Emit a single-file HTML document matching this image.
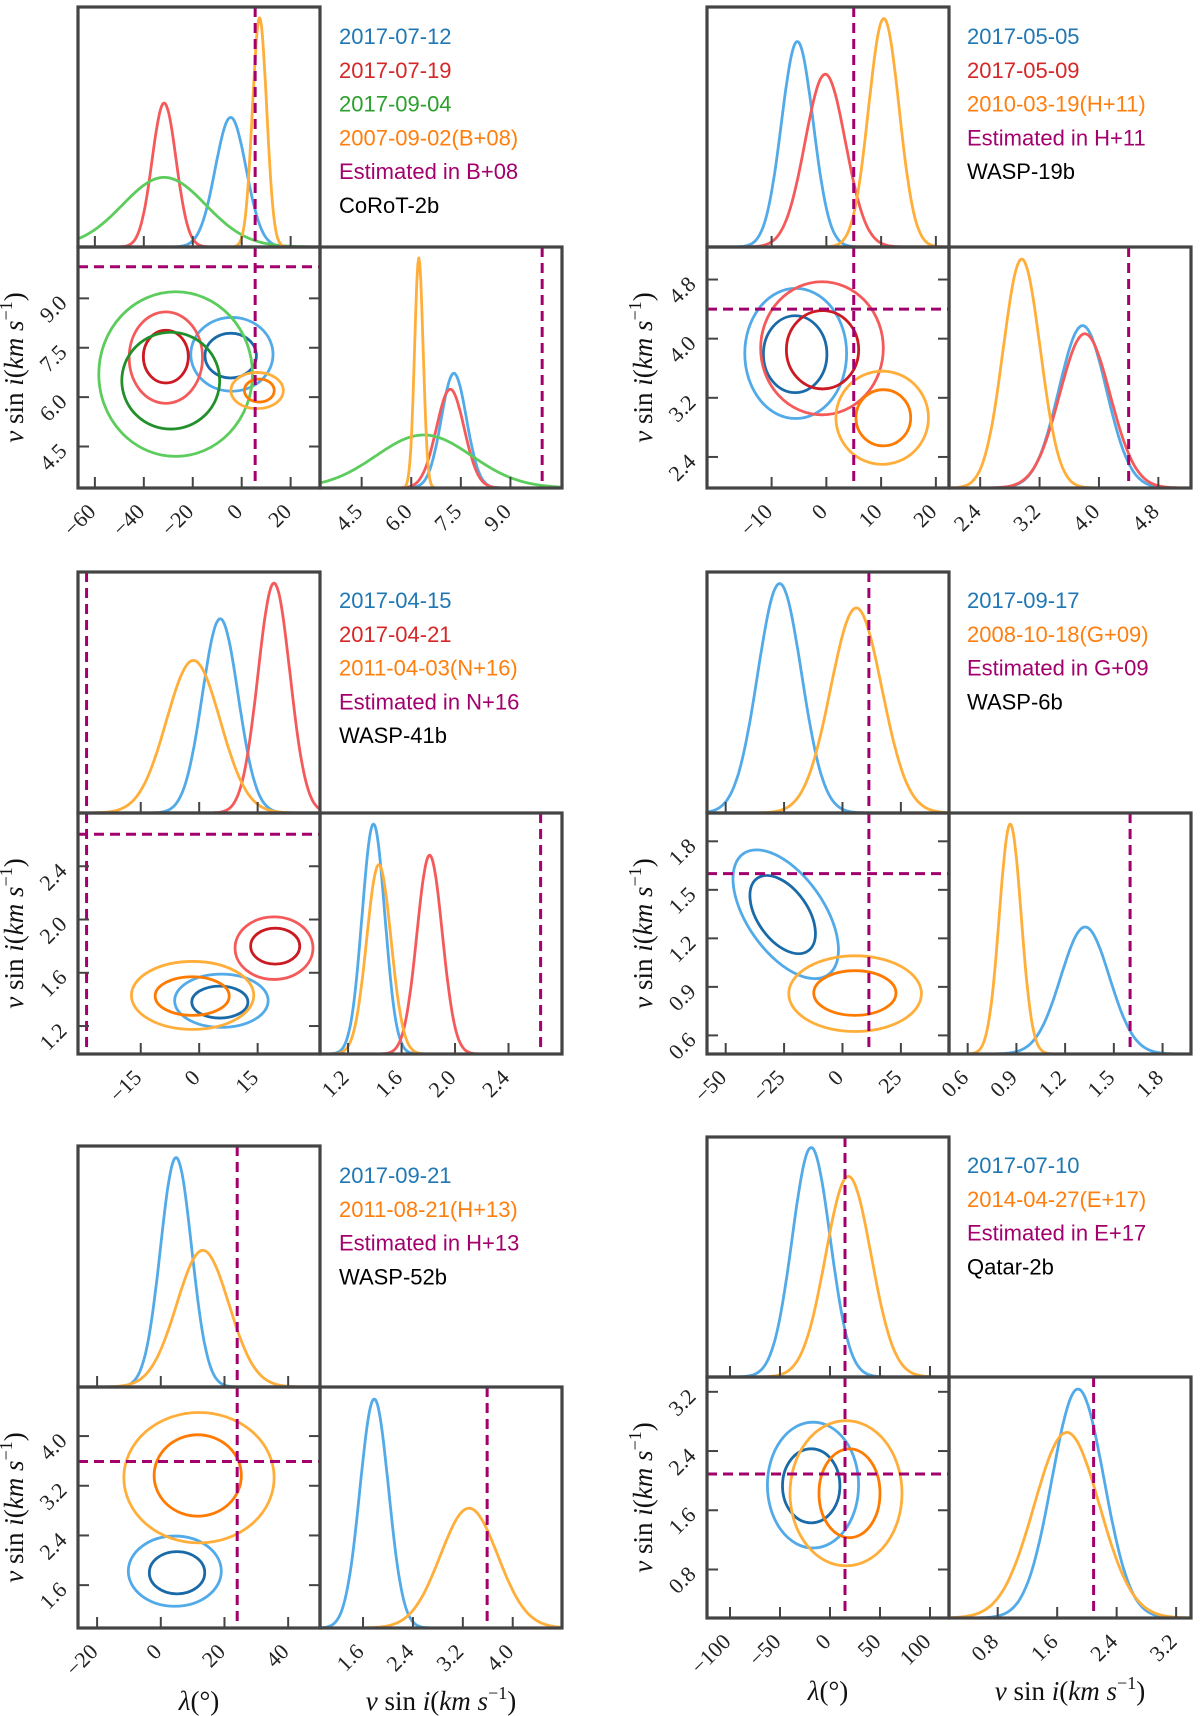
<!DOCTYPE html>
<html><head><meta charset="utf-8"><style>
html,body{margin:0;padding:0;background:#fff;}
svg{display:block;}
.leg{font-family:"Liberation Sans",sans-serif;font-size:22px;}
.tk{font-family:"Liberation Serif",serif;font-size:22px;fill:#222;}
.ax{font-family:"Liberation Serif",serif;font-size:27px;fill:#111;}
</style></head><body>
<svg id="fig" width="1200" height="1716" viewBox="0 0 1200 1716" xmlns="http://www.w3.org/2000/svg"></svg>
<script>
// ---------- data ----------
// CoRoT-2b
const corotLabels = ['2017-07-12','2017-07-19','2017-09-04','2007-09-02(B+08)'];
const corotColors = ['blue','red','green','orange'];
const corotLamMean = [-4.5,-31.7,-31.7,7.3];
const corotLamSd = [6.3,4.9,17,2.9];
const corotLamPeak = [0.54,0.60,0.29,0.955];
const corotVMean = [7.29,7.18,6.38,6.23];
const corotVSd = [0.38,0.42,1.45,0.13];
const corotVPeak = [0.476,0.41,0.22,0.955];
const corotOuterCx = [-4,-31,-27,6.3];
const corotOuterCy = [7.3,7.2,6.7,6.2];
const corotOuterRx = [16.8,15,31.4,10.7];
const corotOuterRy = [1.12,1.39,2.5,0.55];
const corotInnerCx = [-4.5,-31,-29,7.2];
const corotInnerCy = [7.26,7.23,6.5,6.2];
const corotInnerRx = [10.5,9.2,20,6.1];
const corotInnerRy = [0.68,0.8,1.47,0.35];
const corotRot = [0,0,0,0];
const corotLamTicks = [-60,-40,-20,0,20];
const corotVTicks = [4.5,6.0,7.5,9.0];
const corotRef = [5.5,9.96];

// WASP-19b
const w19Labels = ['2017-05-05','2017-05-09','2010-03-19(H+11)'];
const w19Colors = ['blue','red','orange'];
const w19LamMean = [-5.3,-0.2,10.5];
const w19LamSd = [2.9,3.7,2.8];
const w19LamPeak = [0.856,0.72,0.952];
const w19VMean = [3.78,3.81,2.96];
const w19VSd = [0.32,0.34,0.25];
const w19VPeak = [0.674,0.64,0.95];
const w19OuterCx = [-5.6,-0.8,10.2];
const w19OuterCy = [3.8,3.87,2.93];
const w19OuterRx = [9.3,11.2,8.45];
const w19OuterRy = [0.88,0.9,0.63];
const w19InnerCx = [-5.7,-0.7,10.4];
const w19InnerCy = [3.79,3.85,2.93];
const w19InnerRx = [5.8,6.6,5];
const w19InnerRy = [0.52,0.53,0.38];
const w19Rot = [0,0,0];
const w19LamTicks = [-10,0,10,20];
const w19VTicks = [2.4,3.2,4.0,4.8];
const w19Ref = [5.0,4.40];

// WASP-41b
const w41Labels = ['2017-04-15','2017-04-21','2011-04-03(N+16)'];
const w41Colors = ['blue','red','orange'];
const w41LamMean = [5.4,19.2,-1.5];
const w41LamSd = [4.6,4.1,6.9];
const w41LamPeak = [0.806,0.954,0.633];
const w41VMean = [1.39,1.81,1.43];
const w41VSd = [0.085,0.095,0.091];
const w41VPeak = [0.954,0.825,0.786];
const w41OuterCx = [5.7,19.2,-1.7];
const w41OuterCy = [1.39,1.785,1.43];
const w41OuterRx = [12,10,15.7];
const w41OuterRy = [0.2,0.235,0.255];
const w41InnerCx = [5.3,19.5,-1.8];
const w41InnerCy = [1.38,1.8,1.425];
const w41InnerRx = [7.2,6.3,9.5];
const w41InnerRy = [0.12,0.135,0.145];
const w41Rot = [0,0,0];
const w41LamTicks = [-15,0,15];
const w41VTicks = [1.2,1.6,2.0,2.4];
const w41Ref = [-28.9,2.64];

// WASP-6b
const w6Labels = ['2017-09-17','2008-10-18(G+09)'];
const w6Colors = ['blue','orange'];
const w6LamMean = [-26.9,5.9];
const w6LamSd = [9.4,11];
const w6LamPeak = [0.952,0.851];
const w6VMean = [1.323,0.862];
const w6VSd = [0.15,0.067];
const w6VPeak = [0.527,0.954];
const w6OuterCx = [-24.3,5.4];
const w6OuterCy = [1.349,0.858];
const w6OuterRx = [16.4,28.4];
const w6OuterRy = [0.457,0.234];
const w6InnerCx = [-25.6,5.3];
const w6InnerCy = [1.347,0.862];
const w6InnerRx = [10.8,17.6];
const w6InnerRy = [0.274,0.138];
const w6Rot = [-35,0];
const w6LamTicks = [-50,-25,0,25];
const w6VTicks = [0.6,0.9,1.2,1.5,1.8];
const w6Ref = [11.3,1.60];

// WASP-52b
const w52Labels = ['2017-09-21','2011-08-21(H+13)'];
const w52Colors = ['blue','orange'];
const w52LamMean = [4.8,13.2];
const w52LamSd = [4.9,8.2];
const w52LamPeak = [0.952,0.567];
const w52VMean = [1.78,3.30];
const w52VSd = [0.23,0.46];
const w52VPeak = [0.95,0.497];
const w52OuterCx = [4.4,12];
const w52OuterCy = [1.825,3.33];
const w52OuterRx = [14.6,23.6];
const w52OuterRy = [0.565,1.05];
const w52InnerCx = [5.1,11.6];
const w52InnerCy = [1.8,3.365];
const w52InnerRx = [8.7,13.7];
const w52InnerRy = [0.34,0.655];
const w52Rot = [0,0];
const w52LamTicks = [-20,0,20,40];
const w52VTicks = [1.6,2.4,3.2,4.0];
const w52Ref = [24,3.59];

// Qatar-2b
const qLabels = ['2017-07-10','2014-04-27(E+17)'];
const qColors = ['blue','orange'];
const qLamMean = [-18.8,18.4];
const qLamSd = [19,22.8];
const qLamPeak = [0.956,0.836];
const qVMean = [1.88,1.73];
const qVSd = [0.35,0.44];
const qVPeak = [0.95,0.77];
const qOuterCx = [-17,16];
const qOuterCy = [1.94,1.83];
const qOuterRx = [45.6,56];
const qOuterRy = [0.85,0.98];
const qInnerCx = [-18.8,19.5];
const qInnerCy = [1.93,1.83];
const qInnerRx = [28.7,30.5];
const qInnerRy = [0.5,0.6];
const qRot = [0,0];
const qLamTicks = [-100,-50,0,50,100];
const qVTicks = [0.8,1.6,2.4,3.2];
const qRef = [15,2.09];

// ---------- styling / layout ----------
const LIGHT = {blue:'#52aae8',red:'#f55a5a',green:'#5ccc5c',orange:'#ffae3a'};
const DARK = {blue:'#1a6aa8',red:'#cc1a22',green:'#22902a',orange:'#ff7a00'};
const TEXTC = {blue:'#1f77b4',red:'#d62728',green:'#2ca02c',orange:'#ff7f0e'};
const PURPLE = '#a3006e';
const NS = 'http://www.w3.org/2000/svg';
const svg = document.getElementById('fig');
function el(tag, attrs, parent){const e=document.createElementNS(NS,tag);for(const k in attrs)e.setAttribute(k,attrs[k]);(parent||svg).appendChild(e);return e;}

const charts = [
 {key:'corot', name:'CoRoT-2b', refTag:'B+08', x:78, y:[7,247,488], lam:[-66.9,32], v:[3.24,10.56], labels:corotLabels, colors:corotColors, lm:corotLamMean, ls:corotLamSd, lp:corotLamPeak, vm:corotVMean, vs:corotVSd, vp:corotVPeak, ocx:corotOuterCx, ocy:corotOuterCy, orx:corotOuterRx, ory:corotOuterRy, icx:corotInnerCx, icy:corotInnerCy, irx:corotInnerRx, iry:corotInnerRy, rot:corotRot, lt:corotLamTicks, vt:corotVTicks, ref:corotRef, legX:339, legY:36, bottom:false},
 {key:'wasp19', name:'WASP-19b', refTag:'H+11', x:707, y:[7,247,488], lam:[-21.8,22.4], v:[1.98,5.24], labels:w19Labels, colors:w19Colors, lm:w19LamMean, ls:w19LamSd, lp:w19LamPeak, vm:w19VMean, vs:w19VSd, vp:w19VPeak, ocx:w19OuterCx, ocy:w19OuterCy, orx:w19OuterRx, ory:w19OuterRy, icx:w19InnerCx, icy:w19InnerCy, irx:w19InnerRx, iry:w19InnerRy, rot:w19Rot, lt:w19LamTicks, vt:w19VTicks, ref:w19Ref, legX:967, legY:36, bottom:false},
 {key:'wasp41', name:'WASP-41b', refTag:'N+16', x:78, y:[572,813,1054], lam:[-31.1,31.0], v:[0.99,2.80], labels:w41Labels, colors:w41Colors, lm:w41LamMean, ls:w41LamSd, lp:w41LamPeak, vm:w41VMean, vs:w41VSd, vp:w41VPeak, ocx:w41OuterCx, ocy:w41OuterCy, orx:w41OuterRx, ory:w41OuterRy, icx:w41InnerCx, icy:w41InnerCy, irx:w41InnerRx, iry:w41InnerRy, rot:w41Rot, lt:w41LamTicks, vt:w41VTicks, ref:w41Ref, legX:339, legY:600, bottom:false},
 {key:'wasp6', name:'WASP-6b', refTag:'G+09', x:707, y:[572,813,1054], lam:[-58,45.6], v:[0.485,1.975], labels:w6Labels, colors:w6Colors, lm:w6LamMean, ls:w6LamSd, lp:w6LamPeak, vm:w6VMean, vs:w6VSd, vp:w6VPeak, ocx:w6OuterCx, ocy:w6OuterCy, orx:w6OuterRx, ory:w6OuterRy, icx:w6InnerCx, icy:w6InnerCy, irx:w6InnerRx, iry:w6InnerRy, rot:w6Rot, lt:w6LamTicks, vt:w6VTicks, ref:w6Ref, legX:967, legY:600, bottom:false},
 {key:'wasp52', name:'WASP-52b', refTag:'H+13', x:78, y:[1146,1387,1628], lam:[-26,50], v:[0.91,4.79], labels:w52Labels, colors:w52Colors, lm:w52LamMean, ls:w52LamSd, lp:w52LamPeak, vm:w52VMean, vs:w52VSd, vp:w52VPeak, ocx:w52OuterCx, ocy:w52OuterCy, orx:w52OuterRx, ory:w52OuterRy, icx:w52InnerCx, icy:w52InnerCy, irx:w52InnerRx, iry:w52InnerRy, rot:w52Rot, lt:w52LamTicks, vt:w52VTicks, ref:w52Ref, legX:339, legY:1175, bottom:true},
 {key:'qatar2', name:'Qatar-2b', refTag:'E+17', x:707, y:[1137,1377,1618], lam:[-123,119], v:[0.145,3.40], labels:qLabels, colors:qColors, lm:qLamMean, ls:qLamSd, lp:qLamPeak, vm:qVMean, vs:qVSd, vp:qVPeak, ocx:qOuterCx, ocy:qOuterCy, orx:qOuterRx, ory:qOuterRy, icx:qInnerCx, icy:qInnerCy, irx:qInnerRx, iry:qInnerRy, rot:qRot, lt:qLamTicks, vt:qVTicks, ref:qRef, legX:967, legY:1165, bottom:true}
];
const W = 242;

function fmt(t){return (t<0?'\u2212':'')+Math.abs(t);}
function fmtV(t){return t.toFixed(1);}

function yLabel(parent, x, y, name){
  const t = el('text',{class:'ax',x:0,y:0,'text-anchor':'middle',transform:`translate(${x},${y}) rotate(-90)`},parent);
  
  
  t.innerHTML = '<tspan font-style="italic">v</tspan> sin <tspan font-style="italic">i</tspan>(<tspan font-style="italic">km s</tspan><tspan font-size="18" dy="-11">\u22121</tspan><tspan dy="11">)</tspan>';
  return t;
}

charts.forEach(c=>{
  const g = el('g',{});
  
  
  const x0=c.x, x1=c.x+W, x2=c.x+2*W;
  const yT=c.y[0], yM=c.y[1], yB=c.y[2];
  const lamX = v => x0 + (v-c.lam[0])/(c.lam[1]-c.lam[0])*W;
  const vY = v => yB - (v-c.v[0])/(c.v[1]-c.v[0])*(yB-yM);
  const vX = v => x1 + (v-c.v[0])/(c.v[1]-c.v[0])*W;

  const defs = el('defs',{},g);
  const mk=(id,x,y,w,h)=>{const cp=el('clipPath',{id},defs);el('rect',{x,y,width:w,height:h},cp);};
  mk(c.key+'-c1',x0,yT,W,yM-yT); mk(c.key+'-c2',x0,yM,W,yB-yM); mk(c.key+'-c3',x1,yM,W,yB-yM);

  const gTop = el('g',{'clip-path':`url(#${c.key}-c1)`},g);
  
  
  c.lm.forEach((m,i)=>{
    let d='';
    for(let k=0;k<=240;k++){const lv=c.lam[0]+(c.lam[1]-c.lam[0])*k/240;
      const h=c.lp[i]*Math.exp(-0.5*Math.pow((lv-m)/c.ls[i],2));
      d+=(k?'L':'M')+lamX(lv).toFixed(1)+' '+(yM-h*(yM-yT)).toFixed(1);}
    const p=el('path',{d,fill:'none',stroke:LIGHT[c.colors[i]],'stroke-width':2.8,'stroke-linejoin':'round'},gTop);
    
    
  });
  const gC = el('g',{'clip-path':`url(#${c.key}-c2)`},g);
  
  
  const sx=W/(c.lam[1]-c.lam[0]), sy=(yB-yM)/(c.v[1]-c.v[0]);
  c.ocx.forEach((cx,i)=>{
    const px=lamX(cx), py=vY(c.ocy[i]);
    const e1=el('ellipse',{cx:px,cy:py,rx:c.orx[i]*sx,ry:c.ory[i]*sy,fill:'none',stroke:LIGHT[c.colors[i]],'stroke-width':2.8,transform:`rotate(${c.rot[i]} ${px} ${py})`},gC);
    
    
    const qx=lamX(c.icx[i]), qy=vY(c.icy[i]);
    const e2=el('ellipse',{cx:qx,cy:qy,rx:c.irx[i]*sx,ry:c.iry[i]*sy,fill:'none',stroke:DARK[c.colors[i]],'stroke-width':2.8,transform:`rotate(${c.rot[i]} ${qx} ${qy})`},gC);
    
    
  });
  const gR = el('g',{'clip-path':`url(#${c.key}-c3)`},g);
  
  
  c.vm.forEach((m,i)=>{
    let d='';
    for(let k=0;k<=240;k++){const vv=c.v[0]+(c.v[1]-c.v[0])*k/240;
      const h=c.vp[i]*Math.exp(-0.5*Math.pow((vv-m)/c.vs[i],2));
      d+=(k?'L':'M')+vX(vv).toFixed(1)+' '+(yB-h*(yB-yM)).toFixed(1);}
    const p=el('path',{d,fill:'none',stroke:LIGHT[c.colors[i]],'stroke-width':2.8,'stroke-linejoin':'round'},gR);
    
    
  });
  const dash={stroke:PURPLE,'stroke-width':3,'stroke-dasharray':'10 6',fill:'none'};
  const rx=lamX(c.ref[0]), ry=vY(c.ref[1]), rvx=vX(c.ref[1]);
  const l1=el('line',Object.assign({x1:rx,x2:rx,y1:yT,y2:yM},dash),gTop);
  
  
  const l2=el('line',Object.assign({x1:rx,x2:rx,y1:yM,y2:yB},dash),gC);
  
  
  const l3=el('line',Object.assign({x1:x0,x2:x1,y1:ry,y2:ry},dash),gC);
  
  
  const l4=el('line',Object.assign({x1:rvx,x2:rvx,y1:yM,y2:yB},dash),gR);
  
  

  const tk={stroke:'#444','stroke-width':2};
  c.lt.forEach(t=>{const X=lamX(t);
    el('line',Object.assign({x1:X,x2:X,y1:yM,y2:yM-11},tk),g);
    el('line',Object.assign({x1:X,x2:X,y1:yB,y2:yB-11},tk),g);
    const lab=el('text',{class:'tk','text-anchor':'end',transform:`translate(${X+2},${yB+25}) rotate(-45)`},g);
    lab.textContent=fmt(t);
    
    
  });
  c.vt.forEach(t=>{const Y=vY(t), X=vX(t);
    el('line',Object.assign({x1:x0,x2:x0+11,y1:Y,y2:Y},tk),g);
    el('line',Object.assign({x1:x1,x2:x1-11,y1:Y,y2:Y},tk),g);
    el('line',Object.assign({x1:X,x2:X,y1:yB,y2:yB-11},tk),g);
    const a=el('text',{class:'tk','text-anchor':'end',transform:`translate(${x0-10},${Y+6}) rotate(-45)`},g);
    a.textContent=fmtV(t);
    
    
    const b=el('text',{class:'tk','text-anchor':'end',transform:`translate(${X+2},${yB+25}) rotate(-45)`},g);
    b.textContent=fmtV(t);
    
    
  });
  const fr={fill:'none',stroke:'#444','stroke-width':3.2};
  const f1=el('rect',Object.assign({x:x0,y:yT,width:W,height:yM-yT},fr),g);
   
  const f2=el('rect',Object.assign({x:x0,y:yM,width:W,height:yB-yM},fr),g);
   
  const f3=el('rect',Object.assign({x:x1,y:yM,width:W,height:yB-yM},fr),g);
   

  yLabel(g, x0-55, (yM+yB)/2, 'y-axis-title');

  const items = c.labels.map((l,i)=>({t:l,col:TEXTC[c.colors[i]]}));
  items.push({t:'Estimated in '+c.refTag,col:PURPLE});
  items.push({t:c.name,col:'#000'});
  items.forEach((it,i)=>{
    const t=el('text',{class:'leg',x:c.legX,y:c.legY+i*33.8+8,fill:it.col},g);
    t.textContent=it.t;
    
    
  });
  if(c.bottom){
    const a=el('text',{class:'ax','text-anchor':'middle',x:x0+W/2,y:c.y[2]+82},g);
    a.innerHTML='<tspan font-style="italic">λ</tspan>(°)';
    
    
    const b=el('text',{class:'ax','text-anchor':'middle',x:x1+W/2,y:c.y[2]+82},g);
    b.innerHTML='<tspan font-style="italic">v</tspan> sin <tspan font-style="italic">i</tspan>(<tspan font-style="italic">km s</tspan><tspan font-size="18" dy="-11">\u22121</tspan><tspan dy="11">)</tspan>';
    
    
  }
});
</script>
</body></html>
